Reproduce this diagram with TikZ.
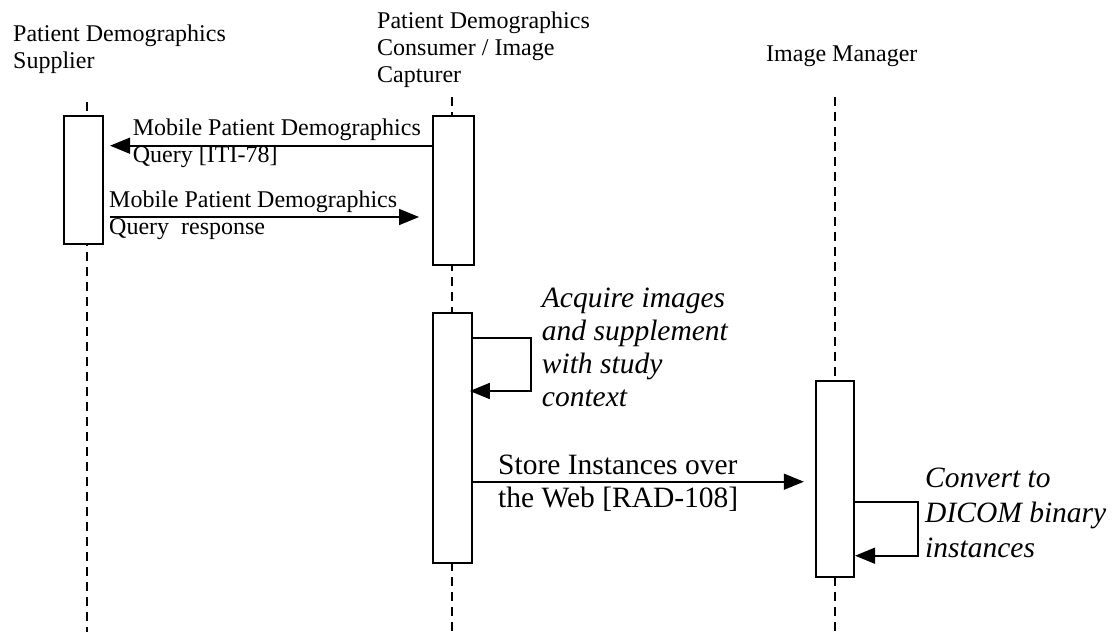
\documentclass[tikz,border=0pt]{standalone}
\usepackage{fontspec}
\setmainfont{Liberation Serif}
\usepackage{tikz}
\usetikzlibrary{arrows.meta,positioning,calc}
\newcommand{\smallfnt}{\fontsize{24}{27}\selectfont}
\newcommand{\bigfnt}{\fontsize{29.5}{33}\selectfont}
\tikzstyle{activation} = [draw,fill=white,line width=2.2pt,inner sep=0pt]
\tikzstyle{lifeline}   = [line width=2pt,dash pattern=on 9pt off 6pt]
\tikzstyle{message}    = [line width=1.6pt,arrows={-Triangle[length=20pt,width=16pt]}]
\tikzstyle{actor}      = [anchor=north west,inner sep=0pt,align=left,font=\smallfnt]
\tikzstyle{msglabel}   = [anchor=north west,inner sep=0pt,align=left,font=\smallfnt]
\tikzstyle{biglabel}   = [anchor=north west,inner sep=0pt,align=left,font=\bigfnt]

\begin{document}
\begin{tikzpicture}[x=1pt,y=-1pt]
                  \useasboundingbox (0,0) rectangle (1119,635);
                  % actors
                  \node (supName)[actor] at (13,25) {Patient Demographics\\Supplier};
                  \node (capName)[actor] at (377,12) {Patient Demographics\\Consumer / Image\\Capturer};
                  \node (mgrName)[actor] at (766,46) {Image Manager};

                  % lifelines
                  \coordinate (supTop) at (86.5,102);
                  \coordinate (supBot) at (86.5,632);
                  \coordinate (capTop) at (452.3,97);
                  \coordinate (capBot) at (452.3,632);
                  \coordinate (mgrTop) at (834.5,97);
                  \coordinate (mgrBot) at (834.5,632);
                  \draw[lifeline] (supTop) -- (supBot);
                  \draw[lifeline] (capTop) -- (capBot);
                  \draw[lifeline] (mgrTop) -- (mgrBot);

                  % activations
                  \node (sup1)[activation,minimum width=38.7pt,minimum height=128pt] at (83.3,180) {};
                  \node (cap1)[activation,minimum width=41.3pt,minimum height=149pt] at (453.3,190.5) {};
                  \node (cap2)[activation,minimum width=39pt,minimum height=249.7pt] at (452.2,437.8) {};
                  \node (mgr1)[activation,minimum width=38.3pt,minimum height=196.3pt] at (834.8,478.8) {};

                  % message rows
                  \coordinate (row1) at (0,145.7);
                  \coordinate (row2) at (0,217);
                  \coordinate (row3) at (0,481.7);
                  \coordinate (loopA) at (531,337.7);
                  \coordinate (loopB) at (531,391);
                  \coordinate (loopC) at (918,501.7);
                  \coordinate (loopD) at (918,555.7);

                  \draw[message,shorten >=6.3pt] (cap1.west |- row1) -- (sup1.east |- row1);
                  \draw[message,shorten <=6.5pt,shorten >=12.5pt] (sup1.east |- row2) -- (cap1.west |- row2);
                  \draw[message] (cap2.east |- loopA) -- (loopA) -- (loopB) -- ([xshift=-3pt]cap2.east |- loopB);
                  \draw[message,shorten >=10.7pt] (cap2.east |- row3) -- (mgr1.west |- row3);
                  \draw[message] (mgr1.east |- loopC) -- (loopC) -- (loopD) -- (mgr1.east |- loopD);

                  % labels
                  \node (q1)[msglabel] at (132.7,119) {Mobile Patient Demographics\\Query [ITI-78]};
                  \node (q2)[msglabel] at (109,191) {Mobile Patient Demographics\\Query\ \ response};
                  \node (acq)[biglabel] at (541.7,288) {\itshape Acquire images\\\itshape and supplement\\\itshape with study\\\itshape context};
                  \node (store)[biglabel] at (498,455) {Store Instances over\\the Web [RAD-108]};
                  \node (conv)[biglabel,font=\fontsize{29.5}{35}\selectfont] at (925,468) {\itshape Convert to\\\itshape DICOM binary\\\itshape instances};
            \end{tikzpicture}
\end{document}
